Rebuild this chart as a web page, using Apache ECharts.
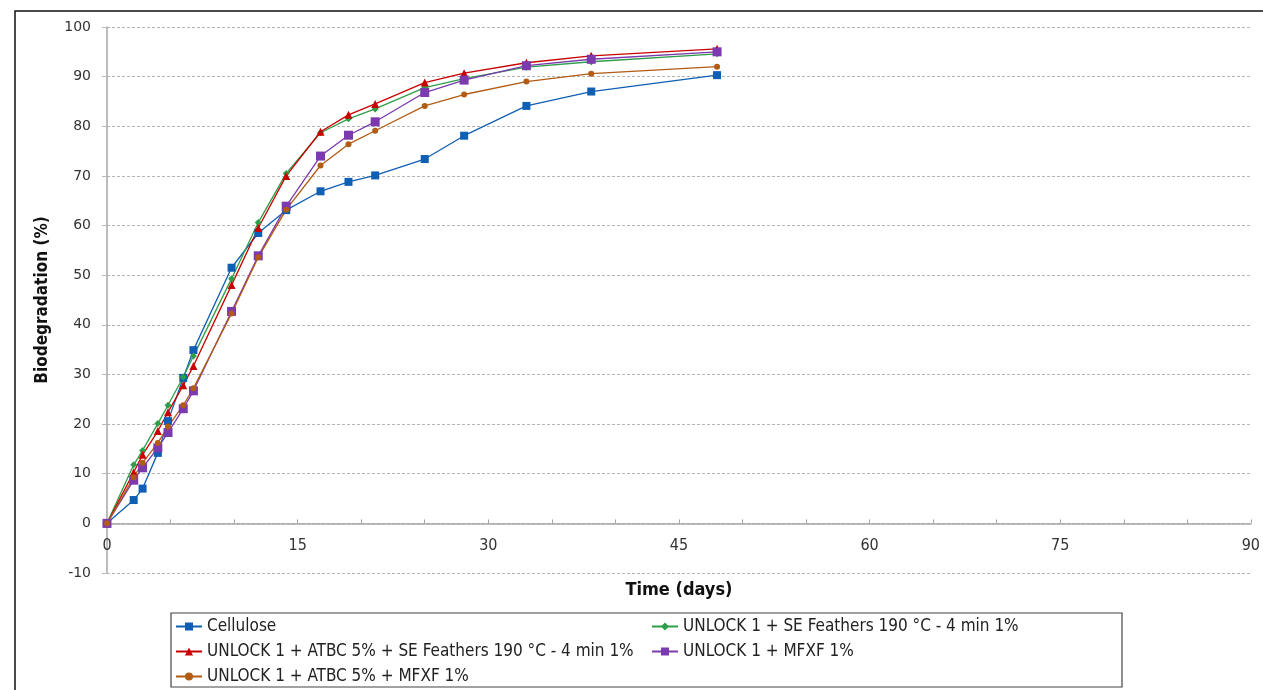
<!DOCTYPE html>
<html>
<head>
<meta charset="utf-8">
<title>Biodegradation</title>
<script src="https://cdn.jsdelivr.net/npm/echarts@6/dist/echarts.min.js"></script>
<style>
	html, body { margin: 0; padding: 0; background: #fff; }
	#main { width: 1263px; height: 690px; }
</style>
</head>
<body>
<div id="main"></div>
<script>
	// 数据
	var days = [ 0, 2.1, 2.8, 4, 4.8, 6, 6.8, 9.8, 11.9, 14.1, 16.8, 19, 21.1, 25, 28.1, 33, 38.1, 48 ];
	var cellulose = [ 0, 4.7, 7, 14.2, 20.6, 29.3, 34.9, 51.5, 58.5, 63.1, 66.9, 68.8, 70.1, 73.4, 78.1, 84.1, 87, 90.3 ];
	var seFeathers = [ 0, 11.8, 14.7, 20.1, 23.8, 29.5, 33.7, 49.3, 60.6, 70.5, 78.7, 81.5, 83.5, 87.8, 89.6, 91.9, 93.0, 94.6 ];
	var atbcSeFeathers = [ 0, 10.3, 13.8, 18.6, 22.4, 27.8, 31.7, 48.0, 59.5, 70.0, 78.9, 82.3, 84.5, 88.8, 90.7, 92.8, 94.2, 95.6 ];
	var mfxf = [ 0, 8.7, 11.2, 15.2, 18.3, 23.1, 26.7, 42.7, 53.9, 63.9, 74.0, 78.2, 80.9, 86.8, 89.3, 92.2, 93.5, 95.0 ];
	var atbcMfxf = [ 0, 9.3, 12.2, 16.2, 19.5, 23.8, 27.2, 42.3, 53.6, 63.2, 72.1, 76.4, 79.1, 84.1, 86.4, 89.0, 90.6, 92.0 ];

	var names = [ 'Cellulose', 'UNLOCK 1 + SE Feathers 190 °C - 4 min 1%', 'UNLOCK 1 + ATBC 5% + SE Feathers 190 °C - 4 min 1%', 'UNLOCK 1 + MFXF 1%', 'UNLOCK 1 + ATBC 5% + MFXF 1%' ];
	var values = [ cellulose, seFeathers, atbcSeFeathers, mfxf, atbcMfxf ];
	var colors = [ '#0F5FB4', '#2E9E48', '#C80000', '#7B3AAE', '#B25B14' ];
	var symbols = [ 'rect', 'diamond', 'triangle', 'rect', 'circle' ];
	var symbolSizes = [ 8, 7, 8, 9, 6 ];

	var narrow = '"DejaVu Sans Condensed", "DejaVu Sans", sans-serif';

	function pairs(ys) {
		var out = [];
		for (var i = 0; i < days.length; i++) {
			out.push([ days[i], ys[i] ]);
		}
		return out;
	}

	var series = [];
	for (var k = 0; k < names.length; k++) {
		series.push({
			name : names[k],
			type : 'line',
			data : pairs(values[k]),
			symbol : symbols[k],
			symbolSize : symbolSizes[k],
			showAllSymbol : true,
			lineStyle : { width : 1.3, color : colors[k] },
			itemStyle : { color : colors[k] },
			emphasis : { disabled : true }
		});
	}

	var legendText = { fontFamily : narrow, fontSize : 17, color : '#222' };

	var myChart = echarts.init(document.getElementById('main'));
	// 指定图表的配置项和数据
	var option = {
		animation : false,
		color : colors,
		grid : { left : 107, right : 10, top : 27, bottom : 117, containLabel : false },
		legend : [ {
			orient : 'vertical',
			left : 175,
			top : 618,
			padding : 0,
			itemWidth : 26,
			itemHeight : 10,
			itemGap : 8,
			textStyle : legendText,
			data : [ names[0], names[2], names[4] ]
		}, {
			orient : 'vertical',
			left : 651,
			top : 618,
			padding : 0,
			itemWidth : 26,
			itemHeight : 10,
			itemGap : 8,
			textStyle : legendText,
			data : [ names[1], names[3] ]
		} ],
		xAxis : {
			type : 'value',
			min : 0,
			max : 90,
			interval : 15,
			name : 'Time (days)',
			nameLocation : 'middle',
			nameGap : 8,
			nameTextStyle : { fontFamily : narrow, fontSize : 18, fontWeight : 'bold', color : '#111' },
			axisLine : { onZero : true, lineStyle : { color : '#a6a6a6', width : 1.5 } },
			axisTick : { show : true, inside : true, length : 4, lineStyle : { color : '#a6a6a6' } },
			minorTick : { show : true, splitNumber : 3, length : 4, lineStyle : { color : '#a6a6a6' } },
			axisLabel : { fontFamily : narrow, fontSize : 16, color : '#333', margin : -35 },
			splitLine : { show : false }
		},
		yAxis : {
			type : 'value',
			min : -10,
			max : 100,
			interval : 10,
			name : 'Biodegradation (%)',
			nameLocation : 'middle',
			nameGap : 56,
			nameTextStyle : { fontFamily : narrow, fontSize : 17, fontWeight : 'bold', color : '#111' },
			axisLine : { show : true, lineStyle : { color : '#a6a6a6', width : 1.5 } },
			axisTick : { show : true, length : 5, lineStyle : { color : '#bbb' } },
			axisLabel : { fontFamily : '"DejaVu Sans", sans-serif', fontSize : 14, color : '#333', margin : 16 },
			splitLine : { show : true, lineStyle : { color : '#b5b5b5', type : [ 3, 2 ], width : 1 } }
		},
		graphic : [ {
			type : 'rect',
			shape : { x : 15, y : 11, width : 1300, height : 720 },
			style : { fill : 'none', stroke : '#111', lineWidth : 1.5 },
			silent : true
		}, {
			type : 'rect',
			shape : { x : 171, y : 613, width : 951, height : 74 },
			style : { fill : 'none', stroke : '#444', lineWidth : 1.2 },
			silent : true
		} ],
		series : series
	};

	// 使用刚指定的配置项和数据显示图表。
	myChart.setOption(option);
</script>
</body>
</html>
